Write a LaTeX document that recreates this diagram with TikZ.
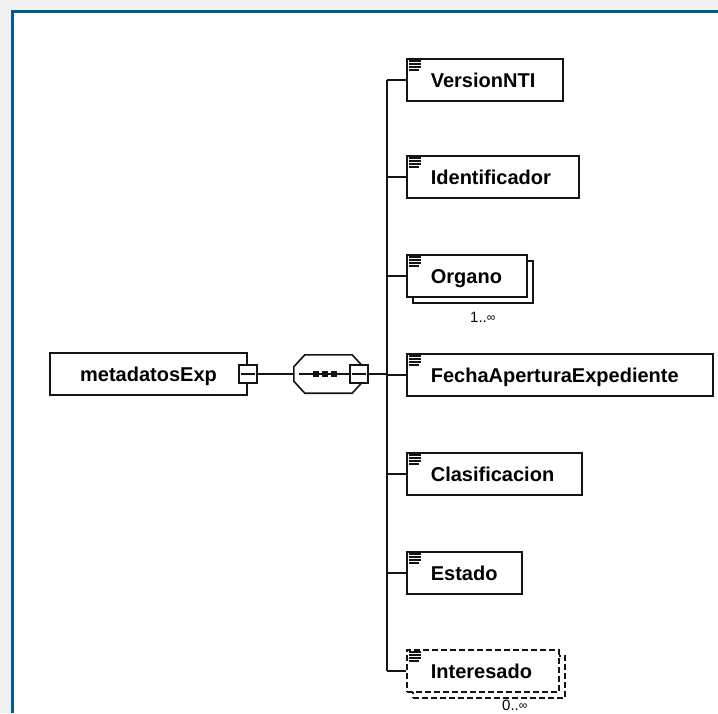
\documentclass[tikz,border=0pt]{standalone}
\usepackage{fontspec}
\setmainfont{Liberation Sans}
\usetikzlibrary{calc}
\definecolor{framblue}{RGB}{0,92,145}
\definecolor{bggray}{RGB}{240,240,240}
\definecolor{ink}{RGB}{20,20,20}
\newcommand{\smallinf}{{\fontsize{12}{12}\selectfont\raisebox{1pt}{∞}}}
\tikzset{
  elfont/.style={font=\bfseries\fontsize{20}{24}\selectfont},
  elbox/.style={elfont, draw=ink, line width=1.7pt, fill=white, rectangle,
    anchor=north west, minimum height=42pt, inner ysep=0pt, inner xsep=24pt,
    align=left, text width=#1, text height=14.3pt, text depth=0pt},
  shadowbox/.style={draw=ink, line width=1.7pt, fill=white, rectangle,
    anchor=north west, minimum height=42pt, minimum width=#1, inner sep=0pt},
  rootbox/.style={elfont, draw=ink, line width=1.7pt, fill=white, rectangle,
    minimum width=197pt, minimum height=42pt, inner sep=0pt,
    text height=14.3pt, text depth=0pt},
  optional/.style={dash pattern=on 6pt off 3pt},
  minusbox/.style={draw=ink, line width=1.6pt, fill=white, rectangle,
    minimum size=18pt, inner sep=0pt},
  seqbox/.style={rectangle, minimum width=69pt, minimum height=38pt, inner sep=0pt},
  seqline/.style={draw=ink, line width=1.6pt, fill=white, line join=miter},
  seqdot/.style={fill=ink, rectangle, minimum size=5.5pt, inner sep=0pt},
  conn/.style={draw=ink, line width=1.6pt},
  icon/.style={draw=ink, line width=1.3pt},
  mult/.style={font=\fontsize{15}{18}\selectfont, inner sep=0pt, anchor=base west}
}
\begin{document}
\begin{tikzpicture}[x=1pt,y=-1pt]
\useasboundingbox (0,0) rectangle (718,713);
% frame
\fill[bggray] (0,0) rectangle (718,713);
\fill[framblue] (11,10) rectangle (718,713);
\fill[white] (13.5,12.5) rectangle (718,713);

% root element
\node[rootbox] (root) at (148.5,374) {metadatosExp};
\node[minusbox] (rm) at (248,374) {};
\draw[conn] ([xshift=3pt]rm.west) -- ([xshift=-3pt]rm.east);

% sequence compositor (octagon)
\node[seqbox] (seq) at (328.5,374) {};
\draw[seqline]
  ([shift={(11,0)}]seq.north west) -- ([shift={(-11,0)}]seq.north east)
  -- ([shift={(0,12)}]seq.north east) -- ([shift={(0,-12)}]seq.south east)
  -- ([shift={(-11,0)}]seq.south east) -- ([shift={(11,0)}]seq.south west)
  -- ([shift={(0,-12)}]seq.south west) -- ([shift={(0,12)}]seq.north west)
  -- cycle;
\node[minusbox] (cm) at (359,374) {};
\draw[conn] ([xshift=3pt]cm.west) -- ([xshift=-3pt]cm.east);
\draw[conn] ([xshift=5pt]seq.west) -- (cm.west);
\node[seqdot] (d1) at (316,374) {};
\node[seqdot] (d2) at (325,374) {};
\node[seqdot] (d3) at (334,374) {};
\draw[conn] (rm.east) -- (seq.west);
\coordinate (bus) at (387,374);
\draw[conn] (cm.east) -- (bus);

% child elements
\node[elbox=108pt] (ver) at (406,58) {VersionNTI};
\node[elbox=124pt] (iden) at (406,155) {Identificador};
\node[shadowbox=120pt] (orgs) at (412,260) {};
\node[elbox=72pt] (org) at (406,254) {Organo};
\node[elbox=258pt] (fecha) at (406,353) {FechaAperturaExpediente};
\node[elbox=127pt] (clas) at (406,452) {Clasificacion};
\node[elbox=67pt] (est) at (406,551) {Estado};
\node[shadowbox=152pt, optional] (ints) at (412,655) {};
\node[elbox=104pt, optional] (int) at (406,649) {Interesado};

% icons
\foreach \n in {ver,iden,org,fecha,clas,est,int}{
  \draw[icon] ([shift={(3,3)}]\n.north west) -- ++(12,0);
  \draw[icon] ([shift={(3,6)}]\n.north west) -- ++(12,0);
  \draw[icon] ([shift={(3,9)}]\n.north west) -- ++(12,0);
  \draw[icon] ([shift={(3,12)}]\n.north west) -- ++(10,0);
}

% connectors
\draw[conn] (bus |- ver.west) -- (bus |- int.west);
\foreach \n in {ver,iden,org,fecha,clas,est,int}{
  \draw[conn] (bus |- \n.west) -- (\n.west);
}

% multiplicities
\node[mult] (orgm) at (470,322) {1..\smallinf};
\node[mult] (intm) at (502,710) {0..\smallinf};
\end{tikzpicture}
\end{document}
